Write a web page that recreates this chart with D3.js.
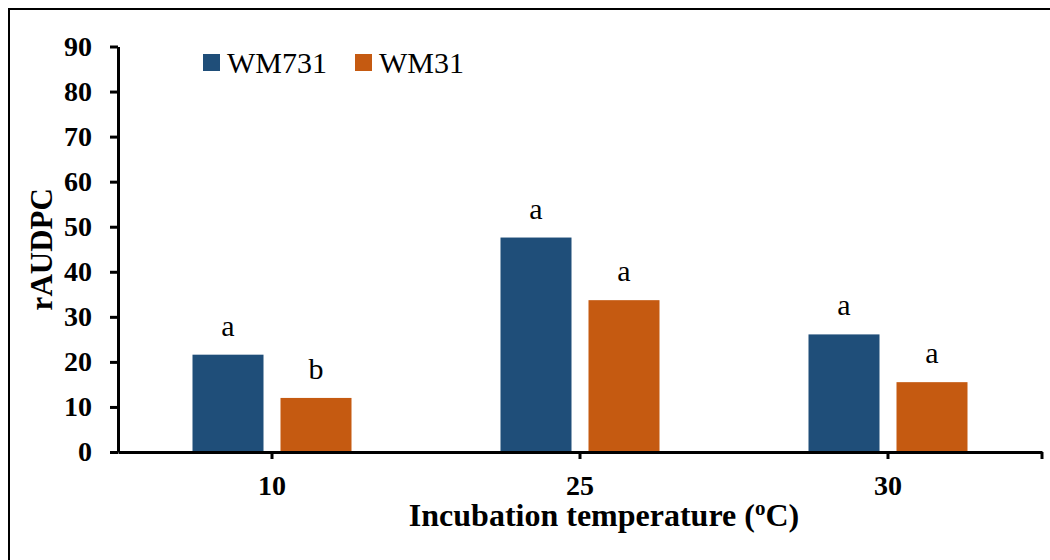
<!DOCTYPE html>
<html>
<head>
<meta charset="utf-8">
<script src="https://cdn.jsdelivr.net/npm/d3@7"></script>
<style>
  body { margin: 0; background: #fff; }
  svg text { font-family: "Liberation Serif", "Tinos", "Times New Roman", "DejaVu Serif", serif; fill: #000; }
</style>
</head>
<body>
<svg id="chart" width="1050" height="560"></svg>
<script>
// data
var temps = ["10", "25", "30"];
var series = ["WM731", "WM31"];
var wm731 = [21.6, 47.6, 26.1];
var wm31 = [12.0, 33.7, 15.5];
var letters731 = ["a", "a", "a"];
var letters31 = ["b", "a", "a"];
var yTicks = [0, 10, 20, 30, 40, 50, 60, 70, 80, 90];
var colors = {WM731: "#1F4E79", WM31: "#C55A11"};

var svg = d3.select("#chart");
var margin = {top: 46.5, right: 8, bottom: 108, left: 118};
var W = 1050, H = 560;
var plotW = W - margin.left - margin.right,
    plotH = H - margin.top - margin.bottom;

// frame (only top/left edges fall inside the picture)
svg.append("path")
    .attr("d", "M9,560 L9,9 L1050,9")
    .attr("fill", "none").attr("stroke", "#000").attr("stroke-width", 2);

var g = svg.append("g").attr("transform", "translate(" + margin.left + "," + margin.top + ")");

var x0 = d3.scaleBand().domain(temps).range([0, plotW]).padding(0);
var groupW = 159;
var x1 = d3.scaleBand().domain(series).range([0, groupW]).paddingInner(17 / 88).paddingOuter(0);
var y = d3.scaleLinear().domain([0, 90]).range([plotH, 0]);

var rows = temps.map(function (t, i) {
    return {temp: t, vals: [
        {s: "WM731", v: wm731[i], lab: letters731[i]},
        {s: "WM31", v: wm31[i], lab: letters31[i]}
    ]};
});

var groups = g.selectAll(".grp").data(rows).enter().append("g")
    .attr("class", "grp")
    .attr("transform", function (d) { return "translate(" + (x0(d.temp) + (x0.bandwidth() - groupW) / 2) + ",0)"; });

groups.selectAll("rect").data(function (d) { return d.vals; }).enter().append("rect")
    .attr("x", function (d) { return x1(d.s); })
    .attr("y", function (d) { return y(d.v); })
    .attr("width", x1.bandwidth())
    .attr("height", function (d) { return plotH - y(d.v); })
    .attr("fill", function (d) { return colors[d.s]; });

groups.selectAll(".lab").data(function (d) { return d.vals; }).enter().append("text")
    .attr("class", "lab")
    .attr("x", function (d) { return x1(d.s) + x1.bandwidth() / 2; })
    .attr("y", function (d) { return y(d.v) - 19; })
    .attr("text-anchor", "middle")
    .attr("font-size", "30px")
    .text(function (d) { return d.lab; });

// y axis
var yAxis = g.append("g")
    .call(d3.axisLeft(y).tickValues(yTicks).tickSize(8).tickSizeOuter(0).tickPadding(18));
yAxis.attr("font-family", null);
yAxis.selectAll("line, path").attr("stroke", "#000").attr("stroke-width", 3);
yAxis.selectAll("text").attr("font-size", "28px").attr("font-weight", "bold");

// x axis
var xAxis = g.append("g").attr("transform", "translate(0," + plotH + ")")
    .call(d3.axisBottom(x0).tickSize(7).tickSizeOuter(0).tickPadding(16));
xAxis.attr("font-family", null);
xAxis.selectAll("line, path").attr("stroke", "#000").attr("stroke-width", 3);
xAxis.selectAll("text").attr("font-size", "28px").attr("font-weight", "bold");
xAxis.append("line")
    .attr("x1", plotW).attr("x2", plotW).attr("y1", 0).attr("y2", 7)
    .attr("stroke", "#000").attr("stroke-width", 3);

// axis titles
svg.append("text")
    .attr("transform", "translate(52," + (margin.top + y(45)) + ") rotate(-90)")
    .attr("text-anchor", "middle")
    .attr("font-size", "31px").attr("font-weight", "bold")
    .text("rAUDPC");

var xt = svg.append("text")
    .attr("x", 604).attr("y", 526)
    .attr("text-anchor", "middle")
    .attr("font-size", "32px").attr("font-weight", "bold");
xt.append("tspan").text("Incubation temperature (");
xt.append("tspan").attr("font-size", "21px").attr("dy", "-11").text("o");
xt.append("tspan").attr("dy", "11").text("C)");

// legend
var legX = [203, 355];
var leg = svg.selectAll(".leg").data(series).enter().append("g")
    .attr("class", "leg")
    .attr("transform", function (d, i) { return "translate(" + legX[i] + ",54)"; });
leg.append("rect").attr("width", 17).attr("height", 17)
    .attr("fill", function (d) { return colors[d]; });
leg.append("text").attr("x", 24).attr("y", 19)
    .attr("font-size", "30px")
    .text(function (d) { return d; });
</script>
</body>
</html>
